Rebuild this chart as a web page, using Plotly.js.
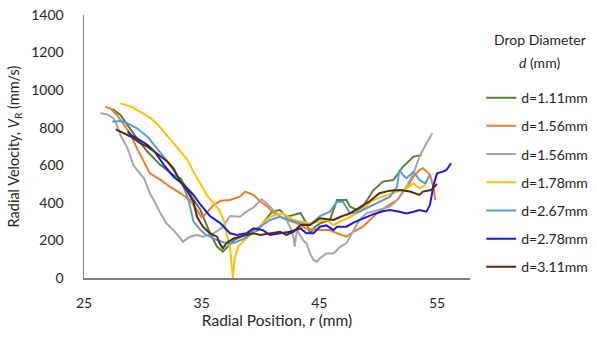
<!DOCTYPE html>
<html>
<head>
<meta charset="utf-8">
<script src="https://cdn.plot.ly/plotly-3.0.1.min.js"></script>
<style>html,body{margin:0;padding:0;background:#fff;}#chart{width:597px;height:340px;}</style>
</head>
<body>
<div id="chart"></div>
<script>
const seriesNames = ["d=1.11mm","d=1.56mm","d=1.56mm","d=1.78mm","d=2.67mm","d=2.78mm","d=3.11mm"];
const seriesColors = ["#548235","#ED7D31","#A5A5A5","#FFC000","#5B9BD5","#1a1ae0","#5a2a0c"];
const xTicks = [25,35,45,55];
const legendTitleLines = ["Drop Diameter","<i>d</i> (mm)"];

const x_d111 = [27.4,28.1,28.7,29.5,30.4,31.5,32.6,33.2,34.0,34.9,35.6,36.3,36.8,37.3,37.8,38.5,39.2,39.8,40.3,41.0,41.65,42.2,42.8,43.4,43.9,44.2,44.6,45.05,45.9,46.5,47.3,47.6,48.2,48.7,49.6,50.4,51.3,52.1,53.0,53.7];
const y_d111 = [900,868,814,743,672,601,548,531,445,362,255,167,140,175,205,225,240,255,300,355,362,326,335,346,291,238,270,291,309,415,415,380,362,380,468,513,522,592,646,655];

const x_d156a = [26.8,27.3,27.8,28.4,29.0,29.5,30.1,30.6,31.5,32.3,33.2,34.0,34.6,35.0,35.4,36.0,36.6,37.4,38.25,38.7,39.4,40.0,40.5,41.1,41.6,42.2,43.1,43.9,45.05,45.9,46.5,47.3,47.9,48.7,49.3,49.9,50.7,51.6,52.4,53.0,53.5,53.8,54.4,54.7,54.85];
const y_d156a = [912,900,868,814,761,690,619,557,522,486,451,415,362,323,344,389,411,415,433,460,442,406,385,346,330,309,291,264,255,255,238,220,246,273,309,344,380,415,480,539,575,585,550,480,415];

const x_d156b = [26.4,27.0,27.5,27.8,28.1,28.7,29.2,29.5,30.1,30.6,31.0,31.5,32.0,32.6,33.2,33.4,34.0,34.6,35.1,36.0,36.8,37.4,38.25,38.8,39.4,40.1,40.5,41.1,41.65,42.2,42.5,42.8,42.9,43.1,43.6,43.9,44.2,44.5,44.8,45.05,45.6,46.2,46.8,47.3,47.9,48.4,49.0,50.1,51.0,51.6,52.4,53.0,53.5,54.1,54.6];
const y_d156b = [877,871,850,814,761,690,601,575,531,450,406,344,291,255,211,193,220,229,220,238,270,330,326,353,375,419,398,362,326,309,273,220,167,255,202,185,131,96,87,105,131,131,167,185,255,309,344,362,380,415,486,557,646,717,770];

const x_d178 = [28.1,29.0,29.8,30.7,31.5,32.4,33.2,33.8,34.3,34.9,35.5,36.0,36.5,36.9,37.1,37.4,37.55,37.65,37.8,38.1,38.5,39.1,39.6,40.2,40.8,41.9,42.8,43.5,44.2,45.0,45.6,46.2,46.8,47.3,48.2,48.9,49.6,50.4,51.6,52.4,53.0,53.5,54.0];
const y_d178 = [930,912,885,850,800,735,675,628,566,500,435,400,360,300,238,167,78,0,105,167,193,229,255,290,326,344,309,300,291,300,309,282,300,318,344,380,415,433,460,477,504,477,495];

const x_d267 = [27.4,28.1,28.7,29.5,30.4,31.2,32.1,32.9,33.5,33.9,34.3,34.9,35.4,36.3,36.7,37.1,37.7,38.25,38.8,39.4,40.0,40.8,41.65,42.5,43.4,44.2,45.05,45.9,46.5,47.0,47.6,48.4,49.3,50.1,51.0,51.6,51.8,52.1,52.4,53.0,53.5,54.0,54.4];
const y_d267 = [832,836,823,797,752,690,619,548,480,410,300,255,229,202,193,185,185,200,215,255,273,309,326,309,291,282,330,353,406,406,344,353,380,406,433,486,575,548,531,566,522,504,548];

const x_d278 = [28.7,29.0,29.5,30.4,31.0,31.8,32.6,33.5,34.3,34.9,35.7,36.6,37.4,38.0,38.8,39.4,40.2,40.8,41.65,42.5,43.4,43.9,44.5,45.05,45.6,46.2,46.5,47.3,47.9,48.7,49.6,50.4,51.0,51.8,52.4,53.0,53.5,54.1,54.4,54.7,55.0,55.5,55.8,56.1,56.2];
const y_d278 = [780,761,743,708,672,601,539,495,442,390,330,291,238,229,238,264,255,229,238,246,264,238,238,273,280,255,273,273,295,315,340,355,362,353,344,353,362,353,389,495,557,566,575,602,610];

const x_d311 = [27.7,28.1,29.0,29.8,30.4,31.0,31.5,32.1,32.6,33.2,33.8,34.3,34.6,35.1,35.7,36.3,36.6,36.8,37.1,37.7,38.25,38.8,39.4,40.0,41.1,41.65,42.2,42.8,43.4,44.2,45.05,46.2,46.8,47.6,48.4,49.3,50.1,51.0,51.8,52.7,53.5,53.8,54.5,55.0];
const y_d311 = [791,779,752,717,699,672,646,619,584,513,460,406,326,273,238,220,176,158,185,211,220,229,238,229,238,246,229,246,282,282,318,309,326,344,375,410,451,465,468,460,442,460,468,500];

const xs = [x_d111,x_d156a,x_d156b,x_d178,x_d267,x_d278,x_d311];
const ys = [y_d111,y_d156a,y_d156b,y_d178,y_d267,y_d278,y_d311];

const FONT = "Lato, 'Open Sans', sans-serif";
const TXT = '#262626';
const traces = xs.map((x,i)=>({
  type:'scatter', mode:'lines', x:x, y:ys[i], name:seriesNames[i],
  line:{color:seriesColors[i], width:2},
  legendgroup:'g'+i
}));

const layout = {
  width:597, height:340,
  margin:{l:84, r:127, t:15, b:62},
  paper_bgcolor:'#fff', plot_bgcolor:'#fff',
  font:{family:FONT, size:14, color:TXT},
  showlegend:true,
  legend:{
    xref:'container', x:0.806, xanchor:'left',
    yref:'paper', y:0.745, yanchor:'top',
    traceorder:'grouped', tracegroupgap:7,
    font:{family:FONT, size:14, color:TXT},
    bgcolor:'rgba(0,0,0,0)'
  },
  annotations:[
    {text:legendTitleLines[0], xref:'paper', yref:'paper', x:1.181, y:0.905, xanchor:'center', yanchor:'middle', showarrow:false, font:{family:FONT, size:14, color:TXT}},
    {text:legendTitleLines[1], xref:'paper', yref:'paper', x:1.181, y:0.821, xanchor:'center', yanchor:'middle', showarrow:false, font:{family:FONT, size:14, color:TXT}}
  ],
  xaxis:{
    range:[25,57.8], tickvals:xTicks, ticktext:xTicks.map(String),
    showline:true, linecolor:'#7f7f7f', linewidth:1.5, mirror:false,
    showgrid:false, zeroline:false, ticks:'', ticklabelstandoff:12,
    tickfont:{family:FONT, size:14, color:TXT},
    title:{text:'Radial Position, <i>r</i> (mm)', standoff:5, font:{family:FONT, size:15.5, color:TXT}}
  },
  yaxis:{
    range:[0,1400], dtick:200, tick0:0,
    showline:true, linecolor:'#7f7f7f', linewidth:1.5,
    showgrid:false, zeroline:false, ticks:'', ticklabelstandoff:16,
    tickfont:{family:FONT, size:14, color:TXT},
    title:{text:'Radial Velocity, <i>V</i><sub>R</sub> (mm/s)', standoff:8, font:{family:FONT, size:14.5, color:TXT}}
  }
};

Plotly.newPlot('chart', traces, layout, {displayModeBar:false, staticPlot:true});
</script>
</body>
</html>
